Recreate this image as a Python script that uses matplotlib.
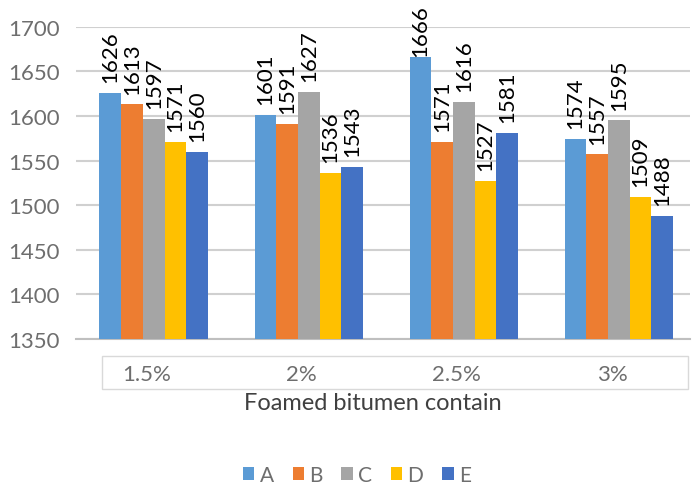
import matplotlib
matplotlib.use("Agg")
import matplotlib.pyplot as plt
from matplotlib.patches import Rectangle
import numpy as np

plt.rcParams['font.family'] = ['Lato', 'DejaVu Sans']

# density per foamed bitumen content
categories = ["1.5%", "2%", "2.5%", "3%"]
series_names = ["A", "B", "C", "D", "E"]
values_A = [1626, 1601, 1666, 1574]
values_B = [1613, 1591, 1571, 1557]
values_C = [1597, 1627, 1616, 1595]
values_D = [1571, 1536, 1527, 1509]
values_E = [1560, 1543, 1581, 1488]
colors = ["#5B9BD5", "#ED7D31", "#A5A5A5", "#FFC000", "#4472C4"]

fig = plt.figure(figsize=(6.93, 4.89), dpi=100)
ax = fig.add_axes([0.11, 0.305, 0.886, 0.638])

x = np.arange(len(categories))
width = 0.14
all_values = [values_A, values_B, values_C, values_D, values_E]
for i, (name, vals, col) in enumerate(zip(series_names, all_values, colors)):
    pos = x + (i - 2) * width
    bars = ax.bar(pos, vals, width, color=col, label=name, zorder=3)
    for b, v in zip(bars, vals):
        # labels near the top get pulled down so they stay inside the figure
        gap = 12 if v + 12 < 1660 else 1
        ax.text(b.get_x() + b.get_width() / 2, v + gap, str(v), rotation=90,
                ha="center", va="bottom", fontsize=16, color="black", zorder=4,
                clip_on=False)

ax.set_ylim(1350, 1700)
ax.set_xlim(-0.5, 3.46)
ax.set_yticks(np.arange(1350, 1701, 50))
ax.yaxis.grid(True, color="#D0D0D0", linewidth=1.5, zorder=0)
ax.tick_params(axis="y", length=0, labelsize=16, labelcolor="#6E6E6E", pad=12)
ax.set_xticks([])
for s in ["top", "right", "left"]:
    ax.spines[s].set_visible(False)
ax.spines["bottom"].set_color("#BFBFBF")
ax.spines["bottom"].set_linewidth(1.5)

# box around the category labels
fig.patches.append(Rectangle((102 / 693, 1 - 390 / 489), (688 - 102) / 693, 33 / 489,
                             transform=fig.transFigure, fill=False,
                             edgecolor="#D9D9D9", linewidth=1))
for xi, cat in zip(x, categories):
    xf = fig.transFigure.inverted().transform(ax.transData.transform((xi, 1350)))[0]
    fig.text(xf - 0.01, 1 - 375 / 489, cat, ha="center", va="center",
             fontsize=16, color="#6E6E6E")

fig.text(0.538, 1 - 404 / 489, "Foamed bitumen contain", ha="center", va="center",
         fontsize=17, color="#404040")

fig.legend(loc="center", bbox_to_anchor=(0.515, 1 - 476 / 489), ncol=5, frameon=False,
           fontsize=15, handlelength=0.55, handleheight=0.55, handletextpad=0.25,
           columnspacing=0.9, labelcolor="#6E6E6E")

plt.savefig("out.png", dpi=100)
